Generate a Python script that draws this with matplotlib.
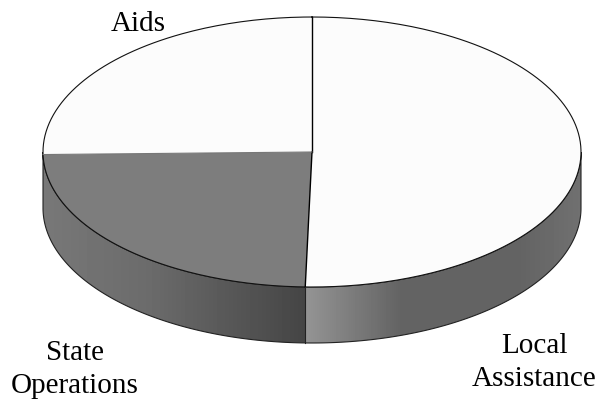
"""Budget split drawn as a tilted 3D pie."""
import matplotlib
matplotlib.use("Agg")
import matplotlib.pyplot as plt
from matplotlib.patches import Polygon
import numpy as np

# slice shares, clockwise from 12 o'clock
categories = ["Local Assistance", "State Operations", "Aids"]
shares = [50.4, 24.3, 25.3]

# shading of the rim, (x position along pie, grey level)
rim_stops_x = [43, 150, 306, 306.01, 400, 520, 581]
rim_stops_grey = [0.47, 0.42, 0.27, 0.58, 0.39, 0.39, 0.44]

CX, CY, RX, RY, DEPTH = 312, 152, 269, 135, 56
TOP_COLORS = ["#fcfcfc", "#7d7d7d", "#fcfcfc"]
FONT = "Liberation Serif"


def rim(theta):
    """Clockwise angle from 12 o'clock to pixel coordinates."""
    return CX + RX * np.sin(theta), CY - RY * np.cos(theta)


fig = plt.figure(figsize=(6, 4.05), dpi=100)
ax = fig.add_axes([0, 0, 1, 1])
ax.set_xlim(0, 600)
ax.set_ylim(405, 0)
ax.axis("off")

# side wall first, a horizontal gradient clipped to the lower half band
t = np.linspace(np.pi / 2, 3 * np.pi / 2, 300)
x, y = rim(t)
band = np.column_stack([np.r_[x, x[::-1]], np.r_[y, y[::-1] + DEPTH]])
clip = Polygon(band, closed=True, transform=ax.transData, fc="none", ec="none")
ax.add_patch(clip)
xs = np.arange(40, 585, 0.5)
grad = np.interp(xs, rim_stops_x, rim_stops_grey)[None, :]
img = ax.imshow(grad, cmap="gray", vmin=0, vmax=1, aspect="auto",
                extent=[40, 585, 350, 150], interpolation="nearest", zorder=1)
img.set_clip_path(clip)
ax.set_xlim(0, 600)
ax.set_ylim(405, 0)
ax.add_patch(Polygon(band, closed=True, fc="none", ec="#222222", lw=0.8, zorder=2))

# top slices
bounds = np.r_[0, np.cumsum(shares)] / sum(shares) * 2 * np.pi
for a, b, color in zip(bounds[:-1], bounds[1:], TOP_COLORS):
    t = np.linspace(a, b, 200)
    x, y = rim(t)
    verts = np.column_stack([np.r_[CX, x, CX], np.r_[CY, y, CY]])
    ax.add_patch(Polygon(verts, closed=True, fc=color, ec="none", zorder=3))

# outline of the top, then the slice edges
t = np.linspace(0, 2 * np.pi, 400)
x, y = rim(t)
ax.plot(x, y, color="#111111", lw=0.8, zorder=4)
ax.plot(*zip((CX, CY), rim(bounds[0])), color="black", lw=1.0, zorder=4)
ax.plot(*zip((CX, CY), rim(bounds[1])), color="black", lw=1.0, zorder=4)
ax.plot(*zip((CX, CY), rim(bounds[2])), color="#777777", lw=0.8, zorder=4)

# divider on the wall under the bottom slice edge
ex, ey = rim(bounds[1])
ax.plot([ex, ex], [ey, ey + DEPTH], color="#222222", lw=0.8, zorder=4)

txt = dict(fontfamily=FONT, fontsize=21, ha="center", va="baseline", color="black")
ax.text(138, 31, "Aids", **txt)
ax.text(75, 360, "State", **txt)
ax.text(75, 393, "Operations", **txt)
ax.text(534, 353, "Local", **txt)
ax.text(534, 386, "Assistance", **txt)

fig.savefig("out.png", dpi=100)
